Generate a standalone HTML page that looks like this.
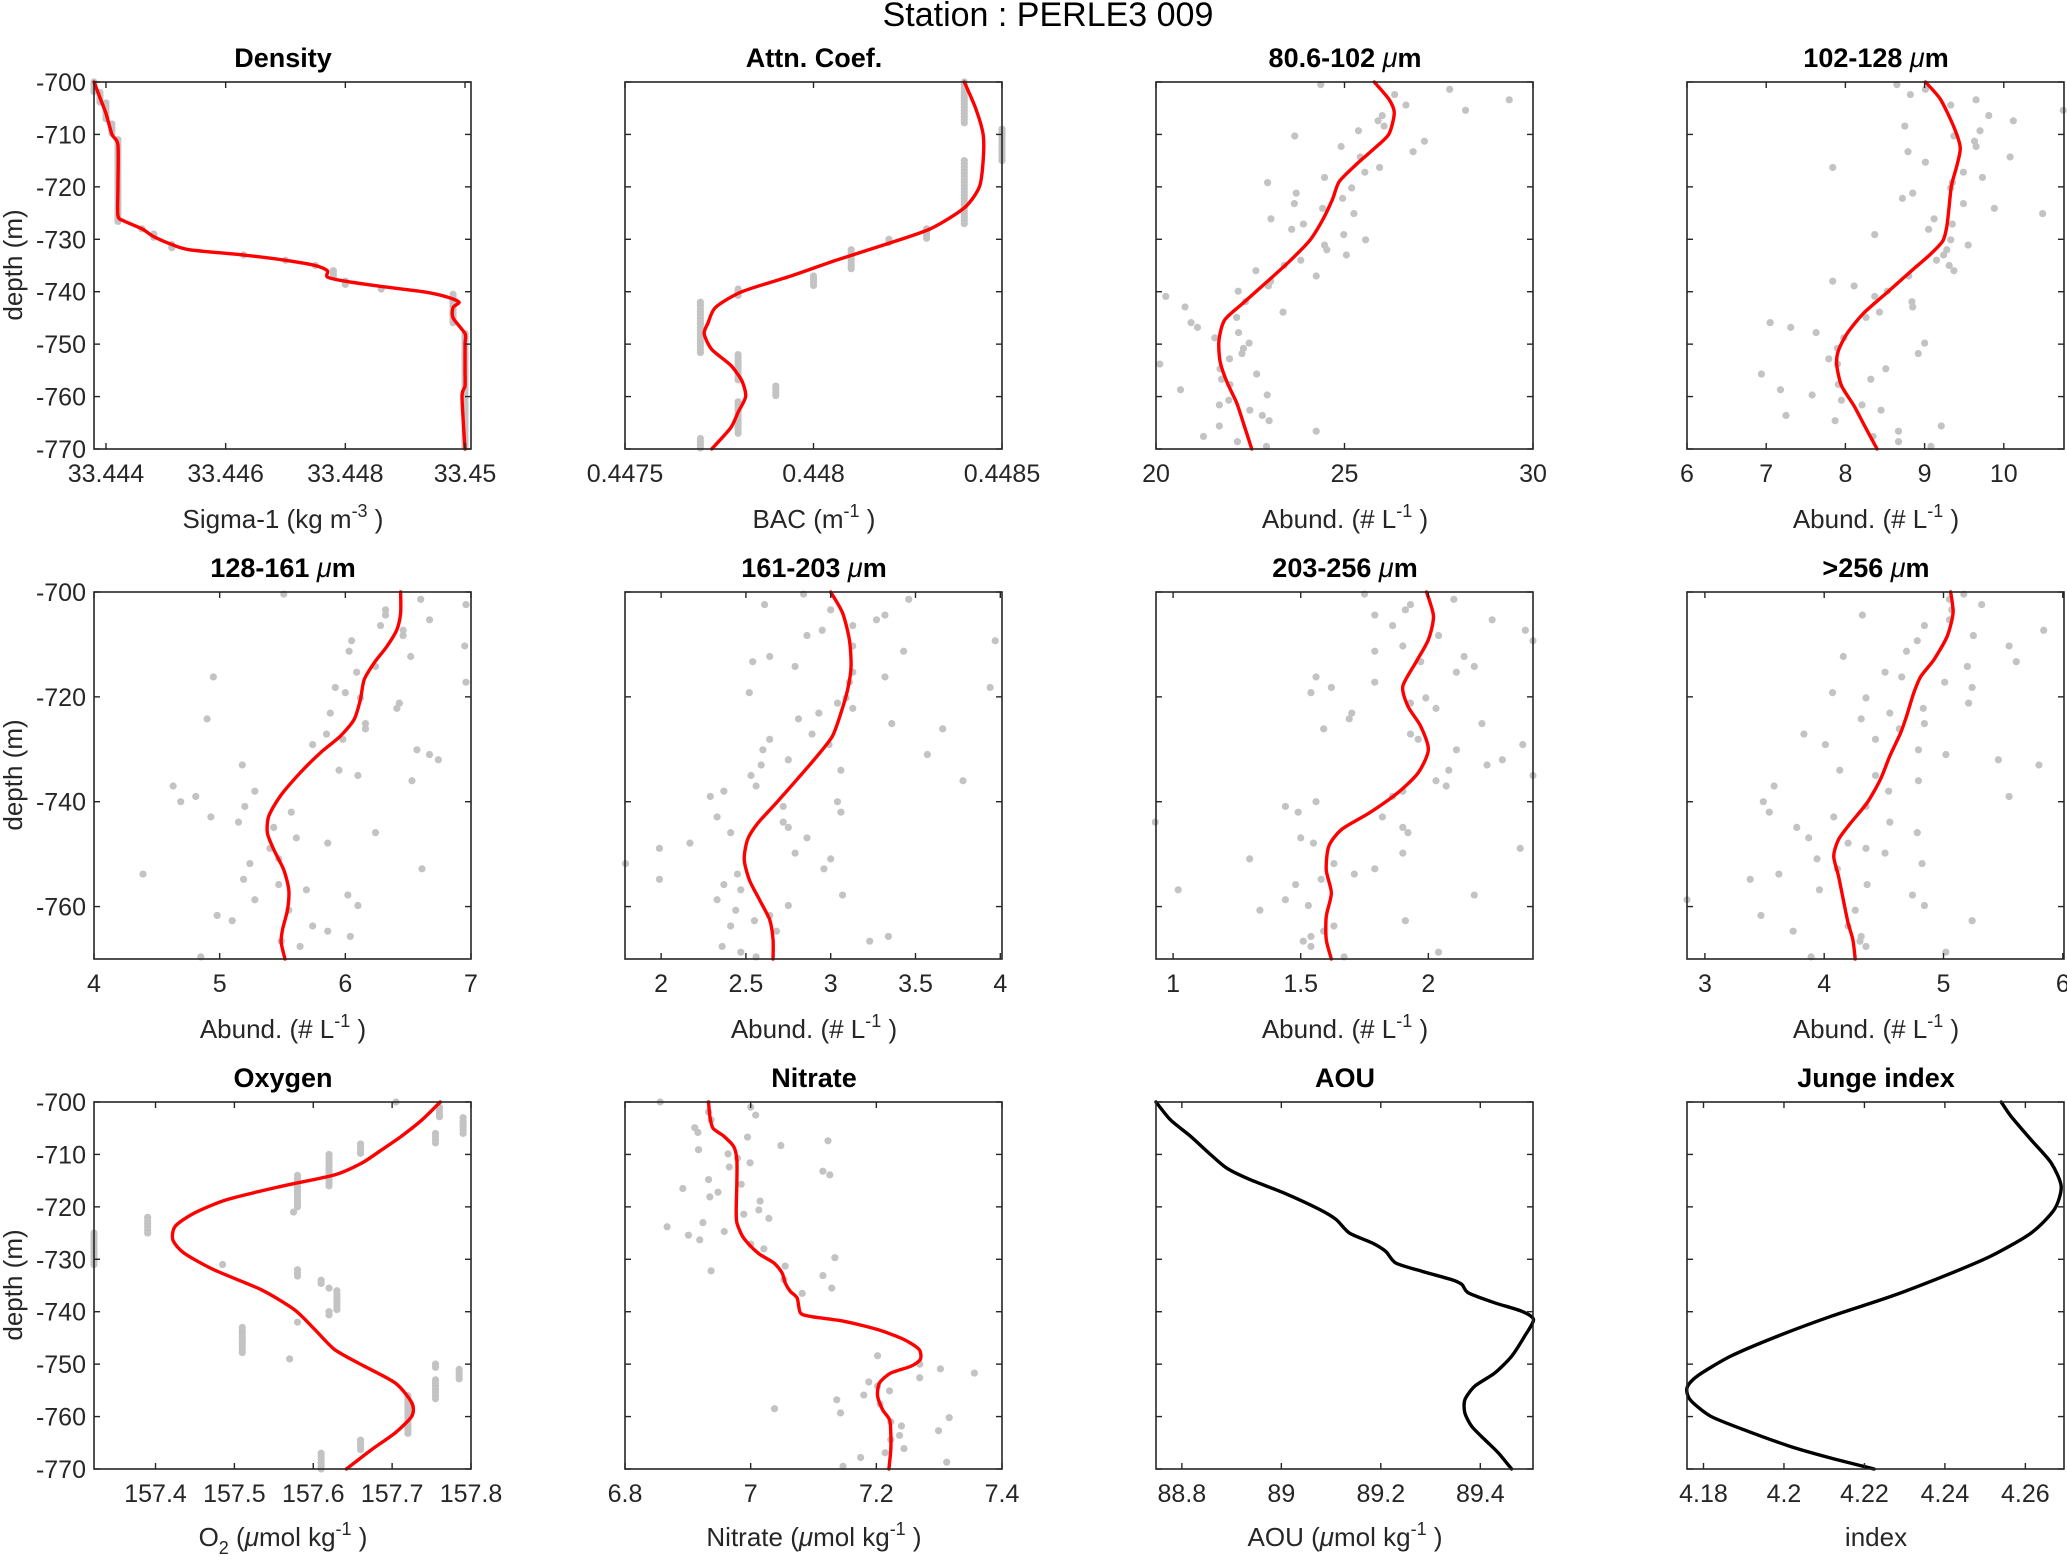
<!DOCTYPE html>
<html><head><meta charset="utf-8"><title>Station : PERLE3 009</title>
<style>
html,body{margin:0;padding:0;background:#fff;}
svg{display:block;font-family:"Liberation Sans",Arial,sans-serif;}
.tl{font-size:25px;fill:#262626;}
.ttl{font-size:27px;font-weight:bold;fill:#000;text-anchor:middle;}
.xl{font-size:26px;fill:#262626;text-anchor:middle;}
</style></head>
<body>
<svg id="fig" width="2067" height="1561" viewBox="0 0 2067 1561" xmlns="http://www.w3.org/2000/svg">
<rect x="0" y="0" width="2067" height="1561" fill="#fff"/>
<text x="1048" y="26" font-size="34" text-anchor="middle" fill="#000">Station : PERLE3 009</text>

<text class="ttl" x="283" y="67">Density</text>
<text class="ttl" x="814" y="67">Attn. Coef.</text>
<text class="ttl" x="1345" y="67">80.6-102 <tspan font-style="italic" font-weight="normal">μ</tspan>m</text>
<text class="ttl" x="1876" y="67">102-128 <tspan font-style="italic" font-weight="normal">μ</tspan>m</text>
<text class="ttl" x="283" y="577">128-161 <tspan font-style="italic" font-weight="normal">μ</tspan>m</text>
<text class="ttl" x="814" y="577">161-203 <tspan font-style="italic" font-weight="normal">μ</tspan>m</text>
<text class="ttl" x="1345" y="577">203-256 <tspan font-style="italic" font-weight="normal">μ</tspan>m</text>
<text class="ttl" x="1876" y="577">&gt;256 <tspan font-style="italic" font-weight="normal">μ</tspan>m</text>
<text class="ttl" x="283" y="1087">Oxygen</text>
<text class="ttl" x="814" y="1087">Nitrate</text>
<text class="ttl" x="1345" y="1087">AOU</text>
<text class="ttl" x="1876" y="1087">Junge index</text>

<text class="xl" x="283" y="528">Sigma-1 (kg m<tspan dy="-11" font-size="18">-3</tspan><tspan dy="11"> )</tspan></text>
<text class="xl" x="814" y="528">BAC (m<tspan dy="-11" font-size="18">-1</tspan><tspan dy="11"> )</tspan></text>
<text class="xl" x="1345" y="528">Abund. (# L<tspan dy="-11" font-size="18">-1</tspan><tspan dy="11"> )</tspan></text>
<text class="xl" x="1876" y="528">Abund. (# L<tspan dy="-11" font-size="18">-1</tspan><tspan dy="11"> )</tspan></text>
<text class="xl" x="283" y="1038">Abund. (# L<tspan dy="-11" font-size="18">-1</tspan><tspan dy="11"> )</tspan></text>
<text class="xl" x="814" y="1038">Abund. (# L<tspan dy="-11" font-size="18">-1</tspan><tspan dy="11"> )</tspan></text>
<text class="xl" x="1345" y="1038">Abund. (# L<tspan dy="-11" font-size="18">-1</tspan><tspan dy="11"> )</tspan></text>
<text class="xl" x="1876" y="1038">Abund. (# L<tspan dy="-11" font-size="18">-1</tspan><tspan dy="11"> )</tspan></text>
<text class="xl" x="283" y="1546">O<tspan dy="8" font-size="18">2</tspan><tspan dy="-8"> (</tspan><tspan font-style="italic">μ</tspan>mol kg<tspan dy="-11" font-size="18">-1</tspan><tspan dy="11"> )</tspan></text>
<text class="xl" x="814" y="1546">Nitrate (<tspan font-style="italic">μ</tspan>mol kg<tspan dy="-11" font-size="18">-1</tspan><tspan dy="11"> )</tspan></text>
<text class="xl" x="1345" y="1546">AOU (<tspan font-style="italic">μ</tspan>mol kg<tspan dy="-11" font-size="18">-1</tspan><tspan dy="11"> )</tspan></text>
<text class="xl" x="1876" y="1546">index</text>

<text class="xl" transform="translate(22,265) rotate(-90)">depth (m)</text>
<text class="xl" transform="translate(22,775) rotate(-90)">depth (m)</text>
<text class="xl" transform="translate(22,1285) rotate(-90)">depth (m)</text>
<g id="marks"></g>
</svg>
<script>
// ---- Density ----
const densityCurveV=[33.4438,33.4439,33.4440,33.4441,33.4442,33.4442,33.4442,33.4443,33.4446,33.4448,33.4451,33.4454,33.4463,33.4470,33.4475,33.4477,33.4477,33.4480,33.4486,33.4493,33.4497,33.4499,33.4498,33.4498,33.4500,33.4500,33.4500,33.4500,33.44995,33.4500];
const densityCurveD=[-700,-703,-706,-710,-712,-720,-725.5,-726.5,-728,-729.5,-731,-732,-733,-734,-735,-736,-737.2,-738,-739,-740,-741,-742,-743,-745,-748,-750,-755,-758,-760,-770];
const densityClusterV=[33.4438,33.4439,33.4440,33.4441,33.4442,33.4446,33.4448,33.4451,33.4463,33.4470,33.4475,33.4478,33.4480,33.4486,33.4498,33.4500];
const densityClusterTop=[-700,-702,-704,-708,-711,-728,-729,-731,-733,-734,-735,-736,-738,-739.5,-740.5,-748];
const densityClusterBot=[-702,-704,-707,-710,-727,-728.5,-730,-732,-733,-734,-735.5,-737.5,-739,-740,-746,-770];
// ---- Attn ----
const attnCurveV=[0.44840,0.44843,0.44845,0.44845,0.44844,0.44840,0.44831,0.44819,0.44806,0.44794,0.44781,0.44774,0.44772,0.44771,0.44773,0.44778,0.44781,0.44782,0.44780,0.44778,0.44773];
const attnCurveD=[-700,-705,-710,-715,-720,-724,-728,-731,-734,-737,-740,-743,-746,-748,-751,-754,-757,-760,-763,-766,-770];
const attnClusterV=[0.4484,0.4485,0.4484,0.4483,0.4482,0.4481,0.4480,0.4478,0.4477,0.4478,0.4479,0.4478,0.4477];
const attnClusterTop=[-700,-709,-715,-728,-730,-732,-737,-739.5,-742,-752,-758,-761,-768];
const attnClusterBot=[-708,-715,-727,-730,-731,-736,-739,-741,-752,-757,-760,-767,-770];
// ---- 80.6-102 ----
const p3CurveV=[25.79,26.18,26.32,26.18,25.82,25.3,24.86,24.68,24.42,24.07,23.54,22.93,22.32,21.82,21.67,21.7,21.88,22.14,22.32,22.54];
const p3CurveD=[-700,-703.3,-705.9,-709.9,-712.5,-715.8,-719,-722.4,-726.3,-730.3,-734.2,-738.2,-742.1,-745.4,-749.3,-753.3,-757.2,-761.2,-765.1,-770];
const p3DotV=[24.37,27.79,26.33,29.37,26.63,28.21,26.0,25.89,26.05,25.37,23.68,27.12,24.91,26.82,25.42,25.93,25.54,24.47,22.96,25.19,23.72,24.95,23.67,24.42,25.25,23.05,23.91,23.6,24.98,25.56,24.47,24.53,25.05,23.84,23.4,22.65,24.25,23.04,22.98,22.18,20.26,22.37,20.77,23.37,22.14,20.93,21.1,22.19,21.56,22.47,22.32,22.28,21.95,20.1,21.7,22.67,21.74,21.96,20.65,22.95,21.93,21.68,22.49,22.82,23.0,21.68,24.25,21.26,22.16,22.93];
const p3DotD=[-700.5,-701.4,-702.4,-703.4,-704.4,-705.4,-706.4,-707.4,-708.4,-709.3,-710.3,-711.3,-712.3,-713.3,-714.3,-716.3,-717.2,-718.2,-719.2,-720.2,-721.2,-722.2,-723.2,-724.1,-725.1,-726.1,-727.1,-728.1,-729.1,-730.1,-731.1,-732,-733,-734,-735,-736,-737,-738,-738.9,-739.9,-740.9,-741.9,-742.9,-743.9,-744.9,-745.9,-746.8,-747.8,-748.8,-749.8,-750.8,-751.8,-752.8,-753.8,-754.7,-755.7,-756.7,-757.7,-758.7,-759.7,-760.7,-761.6,-762.6,-763.6,-764.6,-765.6,-766.6,-767.6,-768.6,-769.5];
// ---- 102-128 ----
const p4CurveV=[9.01,9.2,9.37,9.45,9.41,9.34,9.31,9.28,9.23,9.07,8.82,8.53,8.23,8.02,7.91,7.89,7.95,8.11,8.25,8.4];
const p4CurveD=[-700,-703.3,-708.6,-712.5,-715.8,-719.7,-723.7,-727.6,-730.3,-732.9,-736.2,-740.1,-744.1,-748,-751.3,-753.9,-757.9,-761.8,-765.8,-770];
const p4DotV=[8.65,9.01,8.82,9.65,9.33,10.75,9.81,10.12,8.75,9.7,9.37,9.63,9.65,8.79,10.08,9.01,7.84,9.49,9.73,9.35,9.33,8.85,8.72,9.49,9.88,10.49,9.12,9.35,9.05,8.37,9.33,9.55,9.28,9.24,9.15,9.31,9.37,8.8,7.84,8.11,8.53,8.37,8.84,8.85,8.43,8.26,7.05,7.31,7.63,7.98,9.0,7.9,8.92,7.79,7.9,8.51,6.94,8.32,7.91,7.18,7.58,7.95,8.21,8.45,7.25,7.87,9.21,8.67,8.35,8.67,9.08];
const p4DotD=[-700.5,-701.4,-702.4,-703.4,-704.4,-705.4,-706.4,-707.4,-708.4,-709.3,-710.3,-711.3,-712.3,-713.3,-714.3,-715.3,-716.3,-717.2,-718.2,-719.2,-720.2,-721.2,-722.2,-723.2,-724.1,-725.1,-726.1,-727.1,-728.1,-729.1,-730.1,-731.1,-732,-733,-734,-735,-736,-737,-738,-738.9,-739.9,-740.9,-741.9,-742.9,-743.9,-744.9,-745.9,-746.8,-747.8,-748.8,-749.8,-750.8,-751.8,-752.8,-753.8,-754.7,-755.7,-756.7,-757.7,-758.7,-759.7,-760.7,-761.6,-762.6,-763.6,-764.6,-765.6,-766.6,-767.6,-768.6,-769.5];
// ---- 128-161 ----
const p5CurveV=[6.44,6.44,6.41,6.33,6.23,6.15,6.12,6.07,5.96,5.8,5.64,5.48,5.39,5.38,5.43,5.51,5.55,5.54,5.5,5.49,5.52];
const p5CurveD=[-700,-704,-707.2,-710.4,-713.5,-716.7,-720.5,-724.3,-727.5,-730.7,-734.5,-739,-742.8,-746,-749.1,-753,-756.8,-760.6,-764.4,-766.9,-770];
const p5DotV=[5.51,6.6,6.96,6.32,6.32,6.67,6.28,6.46,6.46,6.05,6.95,6.03,6.52,6.24,6.09,4.95,6.96,5.92,6.0,6.12,6.43,6.41,5.88,4.9,6.16,6.16,5.85,5.98,5.74,6.57,6.67,6.74,5.18,5.95,6.1,6.53,4.63,5.28,4.81,4.69,5.2,5.57,4.93,5.15,5.43,6.24,5.61,5.86,5.4,5.47,5.24,6.61,4.39,5.19,5.47,5.69,6.02,5.28,6.1,5.55,4.98,5.1,5.74,5.86,6.04,5.49,5.64,4.85];
const p5DotD=[-700.4,-701.4,-702.4,-703.4,-704.4,-705.3,-706.4,-707.3,-708.3,-709.3,-710.3,-711.3,-712.3,-714.2,-715.3,-716.2,-717.2,-718.2,-719.2,-720.2,-721.2,-722.2,-723.1,-724.2,-725.1,-726.1,-727.1,-728.1,-729.1,-730.1,-731,-732,-733,-734,-735,-736,-737,-738,-739,-740,-740.9,-742,-742.9,-743.9,-744.9,-745.9,-746.9,-747.9,-748.9,-750.9,-751.8,-752.8,-753.8,-754.8,-755.8,-756.8,-757.8,-758.7,-759.8,-760.7,-761.7,-762.7,-763.7,-764.7,-765.7,-766.6,-767.6,-769.6];
// ---- 161-203 ----
const p6CurveV=[3.0,3.07,3.11,3.12,3.1,3.06,3.01,2.92,2.8,2.68,2.57,2.51,2.49,2.52,2.58,2.64,2.66,2.66];
const p6CurveD=[-700,-704,-709.1,-714.2,-718.6,-723.1,-727.5,-731.3,-735.8,-740.2,-744.1,-747.2,-751,-754.9,-758.7,-762.5,-766.3,-770];
const p6DotV=[2.84,3.46,2.61,3.0,3.32,3.27,3.13,2.95,2.86,3.97,3.13,3.43,2.64,2.54,2.79,3.13,3.32,3.11,3.94,2.52,3.09,3.04,3.13,2.93,2.81,3.36,3.66,2.89,2.64,2.99,2.6,3.57,2.75,2.59,3.06,2.53,3.78,2.56,2.37,2.29,3.04,2.72,3.06,2.33,2.72,2.75,2.41,2.86,2.17,1.99,2.79,3.0,1.79,2.96,2.45,1.99,2.37,2.47,3.07,2.33,2.75,2.44,2.64,2.55,2.41,2.68,3.34,3.23,2.36,2.47,2.56];
const p6DotD=[-700.4,-701.4,-702.4,-703.4,-704.4,-705.3,-706.4,-707.3,-708.3,-709.3,-710.3,-711.3,-712.3,-713.3,-714.2,-715.3,-716.2,-717.2,-718.2,-719.2,-720.2,-721.2,-722.2,-723.1,-724.2,-725.1,-726.1,-727.1,-728.1,-729.1,-730.1,-731,-732,-733,-734,-735,-736,-737,-738,-739,-740,-740.9,-742,-742.9,-743.9,-744.9,-745.9,-746.9,-747.9,-748.9,-749.8,-750.9,-751.8,-752.8,-753.8,-754.8,-755.8,-756.8,-757.8,-758.7,-759.8,-760.7,-761.7,-762.7,-763.7,-764.7,-765.7,-766.6,-767.6,-768.7,-769.6];
// ---- 203-256 ----
const p7CurveV=[1.993,2.02,2.0,1.95,1.9,1.92,1.97,2.0,1.96,1.88,1.77,1.66,1.61,1.6,1.62,1.6,1.6,1.62];
const p7CurveD=[-700,-704.6,-709.1,-713.5,-718,-721.8,-725.6,-730.1,-734.5,-738.3,-742.1,-745.3,-748.5,-753,-757.4,-761.9,-766.3,-770];
const p7DotV=[1.75,2.1,1.93,1.91,1.79,2.25,1.86,2.38,2.04,2.41,1.9,1.79,2.14,1.97,2.18,2.11,1.56,1.79,1.62,1.54,1.99,1.93,2.03,1.7,1.69,2.21,1.59,1.93,1.96,2.37,2.11,2.29,2.23,2.08,2.41,2.03,2.07,1.9,1.86,1.56,1.44,1.49,1.82,0.93,1.9,1.92,1.5,1.55,2.36,1.9,1.3,1.63,1.79,1.71,1.58,1.48,1.02,2.18,1.44,1.53,1.34,1.91,1.63,1.59,1.54,1.51,1.54,2.04,1.67];
const p7DotD=[-700.4,-701.4,-702.4,-703.4,-704.4,-705.3,-706.4,-707.3,-708.3,-709.3,-710.3,-711.3,-712.3,-713.3,-714.2,-715.3,-716.2,-717.2,-718.2,-719.2,-720.2,-721.2,-722.2,-723.1,-724.2,-725.1,-726.1,-727.1,-728.1,-729.1,-730.1,-732,-733,-734,-735,-736,-737,-738,-739,-740,-740.9,-742,-742.9,-743.9,-744.9,-745.9,-746.9,-747.9,-748.9,-749.8,-750.9,-751.8,-752.8,-753.8,-754.8,-755.8,-756.8,-757.8,-758.7,-759.8,-760.7,-762.7,-763.7,-764.7,-765.7,-766.6,-767.6,-768.7,-769.6];
// ---- >256 ----
const p8CurveV=[5.06,5.08,5.03,4.92,4.81,4.75,4.69,4.64,4.55,4.47,4.36,4.22,4.12,4.08,4.12,4.16,4.2,4.24,4.26];
const p8CurveD=[-700,-704,-708.5,-712.9,-716.1,-719.3,-723.7,-726.9,-731.3,-735.8,-740.2,-744.1,-747.2,-750.4,-754.2,-758.7,-763.1,-766.3,-770];
const p8DotV=[5.17,5.05,5.32,5.07,4.32,5.05,4.84,5.84,5.25,4.78,5.55,4.69,4.16,5.61,5.2,4.51,4.65,5.01,5.24,4.07,4.35,5.21,4.83,4.55,4.31,4.84,4.63,3.83,4.43,4.01,4.79,5.02,5.46,5.8,4.13,4.43,4.79,3.58,4.54,5.55,3.49,4.35,3.54,4.08,4.55,3.77,4.78,3.87,4.2,4.35,4.51,3.94,4.82,4.11,3.62,3.38,4.36,3.96,4.74,2.85,4.84,4.26,3.47,5.24,4.2,3.74,4.31,4.3,4.35,5.02,3.89];
const p8DotD=[-700.4,-701.4,-702.4,-703.4,-704.4,-705.3,-706.4,-707.3,-708.3,-709.3,-710.3,-711.3,-712.3,-713.3,-714.2,-715.3,-716.2,-717.2,-718.2,-719.2,-720.2,-721.2,-722.2,-723.1,-724.2,-725.1,-726.1,-727.1,-728.1,-729.1,-730.1,-731,-732,-733,-734,-735,-736,-737,-738,-739,-740,-740.9,-742,-742.9,-743.9,-744.9,-745.9,-746.9,-747.9,-748.9,-749.8,-750.9,-751.8,-752.8,-753.8,-754.8,-755.8,-756.8,-757.8,-758.7,-759.8,-760.7,-761.7,-762.7,-763.7,-764.7,-765.7,-766.6,-767.6,-768.7,-769.6];
// ---- Oxygen ----
const oxyCurveV=[157.761,157.738,157.712,157.687,157.662,157.627,157.559,157.491,157.449,157.425,157.422,157.436,157.474,157.534,157.576,157.602,157.627,157.661,157.704,157.725,157.725,157.704,157.674,157.642];
const oxyCurveD=[-700,-703.4,-706.5,-709.1,-711.6,-713.9,-716.1,-718.6,-721.2,-723.7,-726.3,-728.8,-732,-735.8,-739.6,-743.4,-747.2,-750.1,-753.6,-757.4,-759.9,-763.1,-766.3,-770];
const oxyClusterV=[157.705,157.76,157.79,157.755,157.66,157.62,157.58,157.575,157.39,157.322,157.485,157.58,157.61,157.62,157.63,157.62,157.58,157.51,157.57,157.755,157.785,157.755,157.72,157.66,157.61];
const oxyClusterTop=[-700,-701,-703,-706,-708,-710,-714,-721,-722,-725,-731,-732,-734,-735.5,-736,-740,-742,-743,-749,-750,-751,-753,-756,-764.5,-767];
const oxyClusterBot=[-700,-703,-706,-708,-710,-716.5,-720.5,-721,-725,-731,-731,-733.5,-735,-735.5,-740,-741,-742,-748,-749,-751,-753,-757,-763.5,-766.5,-770];
// ---- Nitrate ----
const nitCurveV=[6.933,6.935,6.94,6.957,6.973,6.978,6.978,6.977,6.978,6.987,7.0,7.015,7.037,7.05,7.055,7.063,7.074,7.079,7.095,7.148,7.202,7.244,7.268,7.27,7.255,7.223,7.205,7.202,7.21,7.221,7.223,7.223,7.22];
const nitCurveD=[-700,-702.7,-705,-706.5,-708.5,-711,-715.4,-720.5,-723,-725.6,-727.5,-729.1,-730.7,-732.6,-734.5,-736.1,-737.4,-740.2,-740.9,-741.8,-743.4,-745.3,-747.2,-749.1,-750.4,-751.7,-753.6,-756.1,-758.7,-760.6,-763.1,-766.3,-770];
const nitDotV=[6.856,7.0,7.008,6.933,6.937,6.911,6.916,6.995,7.123,7.048,6.917,6.964,6.979,6.999,6.966,7.115,7.126,6.933,6.985,6.892,6.948,6.935,7.015,7.013,6.989,7.029,6.924,6.867,6.958,6.901,6.919,7.0,7.021,7.134,7.055,6.937,7.115,7.053,7.129,7.082,7.202,7.269,7.302,7.356,7.269,7.188,7.202,7.221,7.18,7.137,7.206,7.038,7.143,7.316,7.223,7.24,7.299,7.237,7.223,7.244,7.214,7.175,7.312,7.147];
const nitDotD=[-700,-701,-702.5,-701.9,-703.4,-704.9,-705.8,-706.7,-707.4,-708.3,-709.1,-709.9,-710.7,-711.6,-712.4,-713.2,-713.9,-714.8,-715.7,-716.5,-717.2,-718.1,-718.9,-720.6,-721.4,-722.2,-723,-723.8,-724.7,-725.4,-726.3,-727.1,-728,-729.7,-731.3,-732.2,-733.1,-733.9,-735.5,-736.5,-748.4,-750,-750.9,-751.7,-752.6,-753.4,-754.2,-755.1,-755.9,-756.8,-757.6,-758.5,-759.3,-760.2,-761,-761.8,-762.7,-763.6,-764.4,-766.1,-766.9,-767.8,-768.7,-769.5];
// ---- AOU ----
const aouCurveV=[88.748,88.777,88.817,88.854,88.89,88.937,89.004,89.077,89.11,89.137,89.183,89.21,89.23,89.283,89.343,89.363,89.376,89.429,89.483,89.507,89.489,89.463,89.429,89.389,89.369,89.369,89.383,89.409,89.436,89.463];
const aouCurveD=[-700,-703.4,-706.5,-709.7,-712.6,-714.8,-717.3,-720.5,-722.4,-725,-726.9,-728.5,-730.7,-732.3,-733.9,-734.8,-736.4,-738.3,-739.9,-741.5,-744.7,-748.5,-751.7,-754.2,-756.8,-759.3,-761.9,-764.4,-766.9,-770];
// ---- Junge ----
const jungeCurveV=[4.254,4.2564,4.2614,4.2664,4.2689,4.2672,4.2614,4.2514,4.2398,4.2265,4.2116,4.1983,4.1867,4.1784,4.1759,4.1767,4.1817,4.19,4.2016,4.2116,4.2224];
const jungeCurveD=[-700,-702.7,-707.2,-711.6,-716.1,-720.5,-725,-729.4,-733.2,-737.1,-740.9,-744.7,-748.5,-752.3,-754.5,-756.8,-759.9,-762.5,-765.7,-767.9,-770];
// ---- tick arrays ----
const tickDensity=[33.444,33.446,33.448,33.45];
const tickAttn=[0.4475,0.448,0.4485];
const tickP3=[20,25,30];
const tickP4=[6,7,8,9,10];
const tickP5=[4,5,6,7];
const tickP6=[2,2.5,3,3.5,4];
const tickP7=[1,1.5,2];
const tickP8=[3,4,5,6];
const tickOxy=[157.4,157.5,157.6,157.7,157.8];
const tickNit=[6.8,7,7.2,7.4];
const tickAou=[88.8,89,89.2,89.4];
const tickJunge=[4.18,4.2,4.22,4.24,4.26];
const depthTicks10=[-700,-710,-720,-730,-740,-750,-760,-770];
const depthTicks20=[-700,-720,-740,-760];

const NS='http://www.w3.org/2000/svg';
const COLX=[94,625,1156,1687], ROWY=[82,592,1102], W=377, H=367;
const panels=[
 {name:'density',c:0,r:0,xmin:33.4438,xmax:33.4501,ticks:tickDensity,cv:densityCurveV,cd:densityCurveD,col:'#ff0000',clV:densityClusterV,clT:densityClusterTop,clB:densityClusterBot},
 {name:'attn-coef',c:1,r:0,xmin:0.4475,xmax:0.4485,ticks:tickAttn,cv:attnCurveV,cd:attnCurveD,col:'#ff0000',clV:attnClusterV,clT:attnClusterTop,clB:attnClusterBot},
 {name:'size-80-102',c:2,r:0,xmin:20,xmax:30,ticks:tickP3,cv:p3CurveV,cd:p3CurveD,col:'#ff0000',dv:p3DotV,dd:p3DotD},
 {name:'size-102-128',c:3,r:0,xmin:6,xmax:10.76,ticks:tickP4,cv:p4CurveV,cd:p4CurveD,col:'#ff0000',dv:p4DotV,dd:p4DotD},
 {name:'size-128-161',c:0,r:1,xmin:4,xmax:7,ticks:tickP5,cv:p5CurveV,cd:p5CurveD,col:'#ff0000',dv:p5DotV,dd:p5DotD},
 {name:'size-161-203',c:1,r:1,xmin:1.787,xmax:4.01,ticks:tickP6,cv:p6CurveV,cd:p6CurveD,col:'#ff0000',dv:p6DotV,dd:p6DotD},
 {name:'size-203-256',c:2,r:1,xmin:0.933,xmax:2.41,ticks:tickP7,cv:p7CurveV,cd:p7CurveD,col:'#ff0000',dv:p7DotV,dd:p7DotD},
 {name:'size-gt256',c:3,r:1,xmin:2.85,xmax:6.01,ticks:tickP8,cv:p8CurveV,cd:p8CurveD,col:'#ff0000',dv:p8DotV,dd:p8DotD},
 {name:'oxygen',c:0,r:2,xmin:157.322,xmax:157.8,ticks:tickOxy,cv:oxyCurveV,cd:oxyCurveD,col:'#ff0000',clV:oxyClusterV,clT:oxyClusterTop,clB:oxyClusterBot},
 {name:'nitrate',c:1,r:2,xmin:6.8,xmax:7.4,ticks:tickNit,cv:nitCurveV,cd:nitCurveD,col:'#ff0000',dv:nitDotV,dd:nitDotD},
 {name:'aou',c:2,r:2,xmin:88.748,xmax:89.506,ticks:tickAou,cv:aouCurveV,cd:aouCurveD,col:'#000000'},
 {name:'junge-index',c:3,r:2,xmin:4.1759,xmax:4.2696,ticks:tickJunge,cv:jungeCurveV,cd:jungeCurveD,col:'#000000'}
];
const root=document.getElementById('marks');
function el(tag,attrs,parent){const e=document.createElementNS(NS,tag);for(const k in attrs)e.setAttribute(k,attrs[k]);parent.appendChild(e);return e;}
function catmull(pts){
  if(pts.length<2)return '';
  let d='M'+pts[0][0].toFixed(2)+','+pts[0][1].toFixed(2);
  const k=8;
  for(let i=0;i<pts.length-1;i++){
    const p0=pts[i-1]||pts[i],p1=pts[i],p2=pts[i+1],p3=pts[i+2]||pts[i+1];
    const c1x=p1[0]+(p2[0]-p0[0])/k,c1y=p1[1]+(p2[1]-p0[1])/k;
    const c2x=p2[0]-(p3[0]-p1[0])/k,c2y=p2[1]-(p3[1]-p1[1])/k;
    d+=' C'+c1x.toFixed(2)+','+c1y.toFixed(2)+' '+c2x.toFixed(2)+','+c2y.toFixed(2)+' '+p2[0].toFixed(2)+','+p2[1].toFixed(2);
  }
  return d;
}
panels.forEach(function(p){
  const x0=COLX[p.c], y0=ROWY[p.r];
  const sx=function(v){return x0+(v-p.xmin)/(p.xmax-p.xmin)*W;};
  const sy=function(d){return y0+(-700-d)/70*H;};
  const g=el('g',{},root);
  
  
  const clipId='clip-'+p.name;
  const cp=el('clipPath',{id:clipId},g);
  el('rect',{x:x0-4,y:y0-4,width:W+8,height:H+8},cp);
  const dots=el('g',{fill:'#c3c3c3','clip-path':'url(#'+clipId+')'},g);
  
  
  if(p.dv){
    for(let i=0;i<p.dv.length;i++){
      const c=el('circle',{cx:sx(p.dv[i]).toFixed(2),cy:sy(p.dd[i]).toFixed(2),r:3.6},dots);
      
      
    }
  }
  if(p.clV){
    for(let i=0;i<p.clV.length;i++){
      for(let d=p.clT[i];d>=p.clB[i]-0.01;d-=0.6){
        const c=el('circle',{cx:sx(p.clV[i]).toFixed(2),cy:sy(d).toFixed(2),r:3.6},dots);
        
        
      }
    }
  }
  const pts=p.cv.map(function(v,i){return [sx(v),sy(p.cd[i])];});
  const path=el('path',{d:catmull(pts),fill:'none',stroke:p.col,'stroke-width':3.4,'stroke-linejoin':'round','stroke-linecap':'round','clip-path':'url(#'+clipId+')'},g);
  
  
  const box=el('rect',{x:x0,y:y0,width:W,height:H,fill:'none',stroke:'#262626','stroke-width':1.6},g);
  
  
  p.ticks.forEach(function(t){
    const x=sx(t);
    el('line',{x1:x,y1:y0+H,x2:x,y2:y0+H-6,stroke:'#262626','stroke-width':1.4},g);
    el('line',{x1:x,y1:y0,x2:x,y2:y0+6,stroke:'#262626','stroke-width':1.4},g);
    const tx=el('text',{x:x,y:y0+H+33,'text-anchor':'middle',class:'tl'},g);
    
    
    tx.textContent=String(t);
  });
  const yt=(p.r===1)?depthTicks20:depthTicks10;
  yt.forEach(function(d){
    const y=sy(d);
    el('line',{x1:x0,y1:y,x2:x0+6,y2:y,stroke:'#262626','stroke-width':1.4},g);
    el('line',{x1:x0+W,y1:y,x2:x0+W-6,y2:y,stroke:'#262626','stroke-width':1.4},g);
    if(p.c===0){
      const ty=el('text',{x:x0-8,y:y+9,'text-anchor':'end',class:'tl'},g);
      
      
      ty.textContent=String(d);
    }
  });
});
</script>
</body></html>
